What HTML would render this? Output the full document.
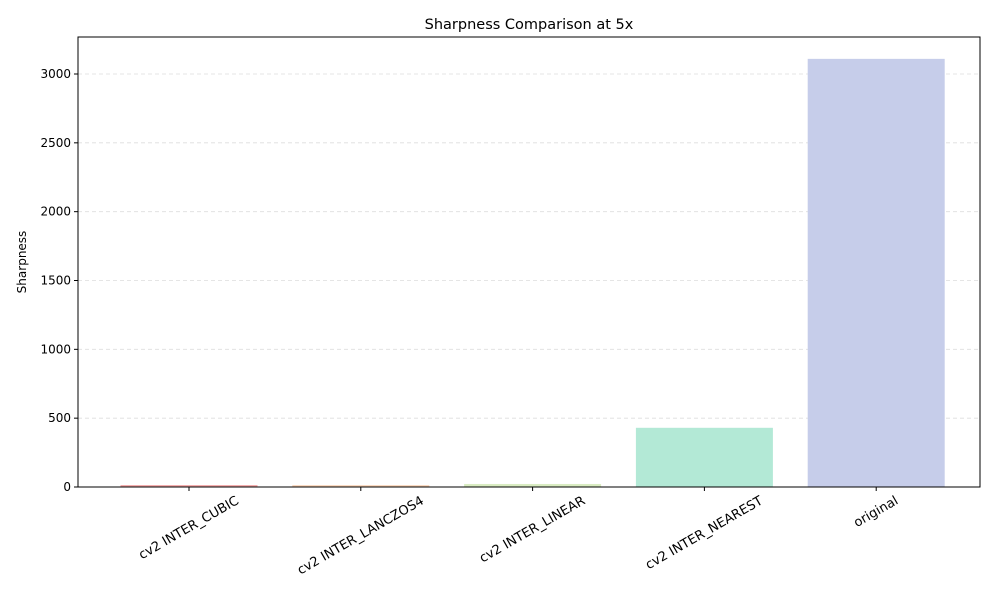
<!DOCTYPE html>
<html><head><meta charset="utf-8"><style>
body{margin:0;background:#fff;font-family:"Liberation Sans","DejaVu Sans",sans-serif}
svg text{font-family:"DejaVu Sans","Liberation Sans",sans-serif}
</style></head><body>
<svg id="chart" width="1000" height="600"></svg>
<script>
const categories=["cv2 INTER_CUBIC","cv2 INTER_LANCZOS4","cv2 INTER_LINEAR","cv2 INTER_NEAREST","original"];
const values=[14,13,22,430,3110];
const colors=["#f4a8a8","#f8d0b2","#d9ecc2","#b3e9d6","#c6cdea"];
const yTicks=[0,500,1000,1500,2000,2500,3000];
const L=78,R=980,T=37,B=487;
const ns="http://www.w3.org/2000/svg";
const svg=document.getElementById('chart');
function el(t,a,txt){const e=document.createElementNS(ns,t);for(const k in a)e.setAttribute(k,a[k]);if(txt!==undefined)e.textContent=txt;svg.appendChild(e);return e;}
const y=v=>B-v*(413/3000);
const step=171.8;
const x=i=>189+i*step;
const bw=137;
yTicks.forEach(t=>{
 if(t>0){const g=el('line',{x1:L,x2:R,y1:y(t),y2:y(t),stroke:'#ddd','stroke-dasharray':'4,3','stroke-width':0.8});
 
 }
 const tk=el('line',{x1:L-4,x2:L,y1:y(t),y2:y(t),stroke:'#000'});
 
 
 const lb=el('text',{x:L-7,y:y(t)+4,'text-anchor':'end','font-size':12},String(t));
 
 
});
values.forEach((v,i)=>{
 const r=el('rect',{x:x(i)-bw/2,y:y(v),width:bw,height:B-y(v),fill:colors[i]});
 
 
 const tk=el('line',{x1:x(i),x2:x(i),y1:B,y2:B+4,stroke:'#000'});
 
 
 const lb=el('text',{x:x(i),y:0,'text-anchor':'middle','dominant-baseline':'central','font-size':13},categories[i]);
 
 
 const w=lb.getComputedTextLength();
 const h=14;
 const cy=B+7+(w/2)*0.5+(h/2)*0.866;
 lb.setAttribute('y',cy);
 lb.setAttribute('transform',`rotate(-30 ${x(i)} ${cy})`);
});
const fr=el('rect',{x:L,y:T,width:R-L,height:B-T,fill:'none',stroke:'#000','stroke-width':1});


const tt=el('text',{x:(L+R)/2,y:T-8,'text-anchor':'middle','font-size':14.5},'Sharpness Comparison at 5x');


const yt=el('text',{x:26,y:(T+B)/2,'text-anchor':'middle','font-size':12,transform:`rotate(-90 26 ${(T+B)/2})`},'Sharpness');


</script>
</body></html>
